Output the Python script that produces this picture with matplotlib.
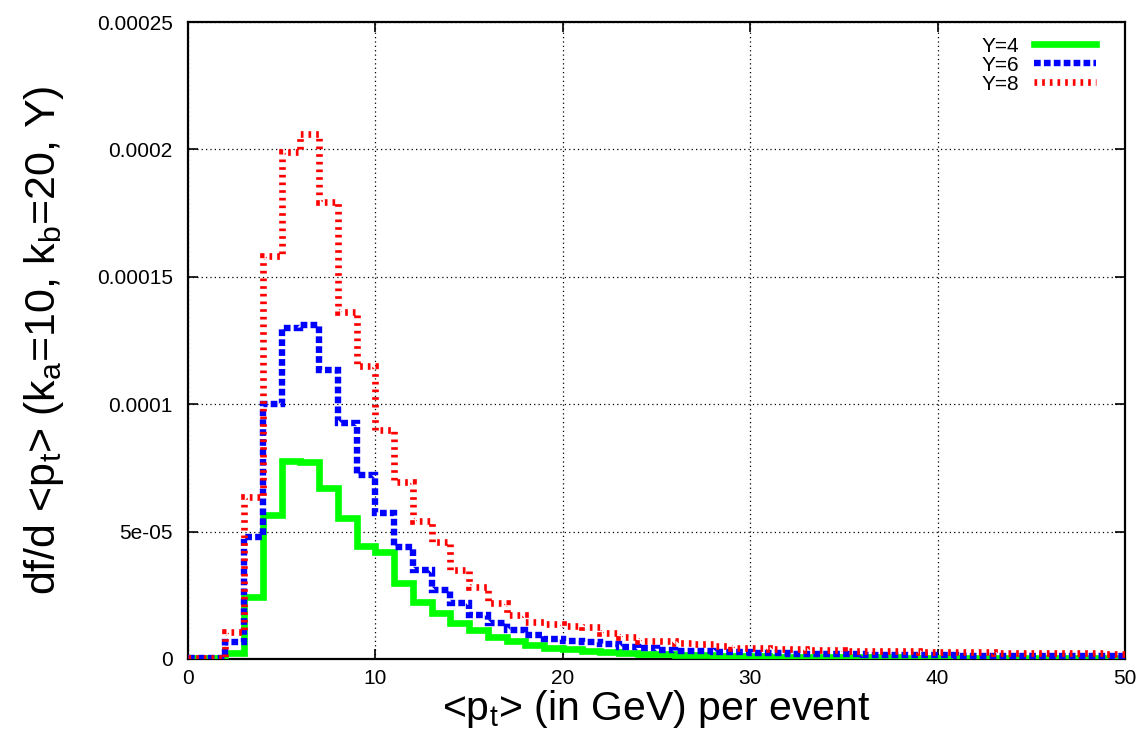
import numpy as np
import matplotlib
matplotlib.use("Agg")
import matplotlib.pyplot as plt

plt.rcParams['font.family'] = ['Liberation Sans', 'DejaVu Sans']
plt.rcParams['mathtext.fontset'] = 'custom'
plt.rcParams['mathtext.rm'] = 'Liberation Sans'
plt.rcParams['mathtext.it'] = 'Liberation Sans'

# bin edges (GeV) and histogram values in units of 1e-5
bin_edges = list(range(0, 51))
value_scale = 1e-5
y4 = [0.02, 0.02, 0.22, 2.45, 5.65, 7.78, 7.74, 6.7, 5.52, 4.45,
      4.21, 2.97, 2.25, 1.79, 1.43, 1.14, 0.88, 0.71, 0.55, 0.45,
      0.38, 0.32, 0.27, 0.23, 0.20, 0.18, 0.16, 0.14, 0.12, 0.11,
      0.10, 0.09, 0.08, 0.08, 0.07, 0.07, 0.06, 0.06, 0.05, 0.05,
      0.05, 0.04, 0.04, 0.04, 0.04, 0.03, 0.03, 0.03, 0.03, 0.03]
y6 = [0.03, 0.03, 0.68, 4.8, 10.0, 12.98, 13.1, 11.34, 9.25, 7.22,
      5.72, 4.38, 3.49, 2.71, 2.19, 1.73, 1.40, 1.14, 0.94, 0.80,
      0.72, 0.66, 0.58, 0.48, 0.42, 0.36, 0.32, 0.30, 0.28, 0.26,
      0.24, 0.22, 0.21, 0.20, 0.19, 0.18, 0.17, 0.16, 0.15, 0.15,
      0.14, 0.13, 0.13, 0.12, 0.12, 0.11, 0.11, 0.10, 0.10, 0.10]
y8 = [0.05, 0.05, 1.05, 6.37, 15.8, 19.9, 20.6, 17.95, 13.6, 11.5,
      8.99, 6.96, 5.4, 4.6, 3.49, 2.84, 2.19, 1.73, 1.46, 1.37,
      1.30, 1.25, 1.03, 0.85, 0.72, 0.70, 0.64, 0.59, 0.51, 0.45,
      0.42, 0.40, 0.38, 0.36, 0.35, 0.33, 0.32, 0.31, 0.30, 0.29,
      0.28, 0.27, 0.26, 0.25, 0.24, 0.24, 0.23, 0.22, 0.22, 0.21]
labels = ["Y=4", "Y=6", "Y=8"]
x_ticks = [0, 10, 20, 30, 40, 50]
x_ticklabels = ["0", "10", "20", "30", "40", "50"]
y_ticks = [0, 5e-05, 0.0001, 0.00015, 0.0002, 0.00025]
y_ticklabels = ["0", "5e-05", "0.0001", "0.00015", "0.0002", "0.00025"]

fig = plt.figure(figsize=(11.43, 7.36), dpi=100)
ax = fig.add_axes([188/1143, 1-659/736, (1125-188)/1143, (659-22)/736])

edges = np.array(bin_edges, dtype=float)
h4 = ax.stairs(np.array(y4)*value_scale, edges, baseline=None, color='#00ff00',
               linewidth=4.8, label=labels[0], zorder=3)
h6 = ax.stairs(np.array(y6)*value_scale, edges, baseline=None, color='#0000ff',
               linewidth=4.6, linestyle=(0, (1.05, 0.5)), label=labels[1], zorder=4)
h8 = ax.stairs(np.array(y8)*value_scale, edges, baseline=None, color='#ff0000',
               linewidth=4.8, linestyle=(0, (0.4, 0.75)), label=labels[2], zorder=5)
for h in (h6, h8):
    h.set_capstyle('butt')

ax.set_xlim(0, 50)
ax.set_ylim(0, 0.00025)
ax.set_xticks(x_ticks)
ax.set_xticklabels(x_ticklabels)
ax.set_yticks(y_ticks)
ax.set_yticklabels(y_ticklabels)
ax.tick_params(axis='both', direction='in', length=7, width=1.2, labelsize=15,
               top=True, right=True, colors='black')
ax.tick_params(axis='y', pad=11)
ax.tick_params(axis='x', pad=7)
ax.grid(True, color='black', linestyle=(0, (1, 2.5)), linewidth=0.9)
for s in ax.spines.values():
    s.set_linewidth(1.6)
    s.set_color('black')

ax.set_xlabel(r'<p$_{\mathrm{t}}$> (in GeV) per event', fontsize=29.5, labelpad=0)
ax.set_ylabel(r'df/d <p$_{\mathrm{t}}$> (k$_{\mathrm{a}}$=10, k$_{\mathrm{b}}$=20, Y)',
              fontsize=31, labelpad=22)

leg = ax.legend(loc='upper right', bbox_to_anchor=(0.978, 0.99), frameon=False,
                markerfirst=False, fontsize=15, handlelength=3.0, handletextpad=0.7,
                labelspacing=0.0, borderaxespad=0.0)

fig.savefig('out.png', dpi=100)
